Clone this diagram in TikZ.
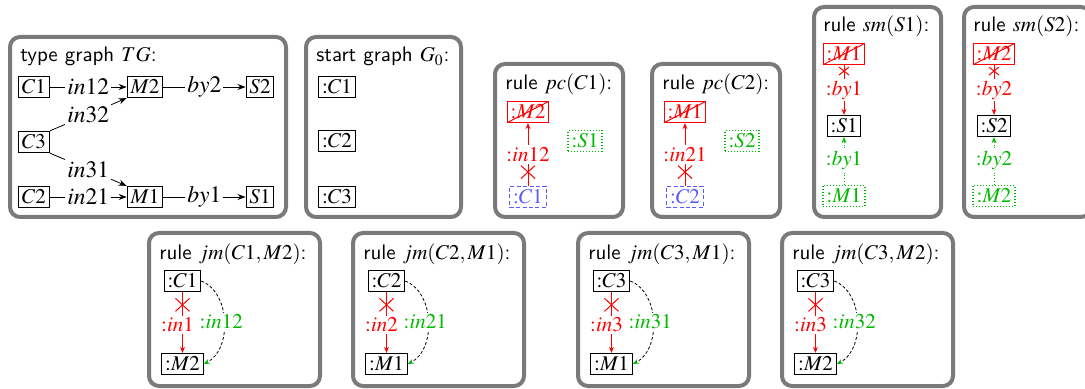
\documentclass[tikz,border=0pt]{standalone}
\usepackage{mathptmx}
\usetikzlibrary{arrows.meta,shapes.misc}
\definecolor{frm}{RGB}{122,122,122}
\definecolor{rd}{RGB}{255,0,0}
\definecolor{gn}{RGB}{0,185,0}
\definecolor{bl}{RGB}{90,90,255}
\tikzset{
  every node/.style={font=\fontsize{10.5}{12}\selectfont},
  frame/.style={draw=frm, line width=2pt, rounded corners=5pt},
  ttl/.style={anchor=base west, inner sep=0pt},
  obj/.style={draw, line width=0.5pt, inner xsep=1.7pt, inner ysep=1.1pt, text height=7.6pt, text depth=0.8pt},
  del/.style={obj, draw=rd, text=rd, path picture={\draw[rd,line width=0.5pt] (path picture bounding box.south west) -- (path picture bounding box.north east);}},
  nac/.style={obj, draw=bl, text=bl, dash pattern=on 2pt off 1.2pt},
  add/.style={obj, draw=gn, text=gn, densely dotted, line width=0.8pt},
  lab/.style={fill=white, inner sep=1pt},
  tglab/.style={lab, font=\fontsize{11.8}{13}\selectfont},
  tip/.style={-{Stealth[length=4pt,width=3pt]}},
  stip/.style={-{Stealth[length=3pt,width=2.4pt]}},
  xmark/.style={cross out, draw=rd, line width=0.5pt, inner sep=0pt, minimum width=6.5pt, minimum height=6pt},
  xsmall/.style={cross out, draw=rd, line width=0.5pt, inner sep=0pt, minimum width=4.5pt, minimum height=3.5pt},
  curvedge/.style={draw=black, line width=0.4pt, dash pattern=on 1.5pt off 1pt, -{Stealth[length=3pt,width=2.4pt,color=gn]}}
}
\begin{document}
\begin{tikzpicture}[x=0.5pt,y=-0.5pt]
\clip (0,0) rectangle (1085,389);
% type graph
\draw[frame] (10,37) rectangle (286,217);
\node[ttl] (ttg) at (20,62) {\textsf{type graph} $TG$\textsf{:}};
\node[obj] (C1) at (34,87) {$C1$};
\node[obj] (M2) at (145,87) {$M2$};
\node[obj] (S2) at (260,87) {$S2$};
\node[obj] (C3) at (34,142) {$C3$};
\node[obj] (C2) at (34,197) {$C2$};
\node[obj] (M1) at (145,197) {$M1$};
\node[obj] (S1) at (260,197) {$S1$};
\draw[tip] (C1) -- node[tglab]{$in12$} (M2);
\draw[tip] (M2) -- node[tglab]{$by2$} (S2);
\draw[tip] (C2) -- node[tglab]{$in21$} (M1);
\draw[tip] (M1) -- node[tglab]{$by1$} (S1);
\draw[tip] (C3.north east) -- node[tglab]{$in32$} (M2.south west);
\draw[tip] (C3.south east) -- node[tglab]{$in31$} (M1.north west);
% start graph
\draw[frame] (306,37) rectangle (461,217);
\node[ttl] (tg0) at (316,62) {\textsf{start graph} $G_0$\textsf{:}};
\node[obj] (g1) at (337,87) {${:}C1$};
\node[obj] (g2) at (337,141) {${:}C2$};
\node[obj] (g3) at (337,197) {${:}C3$};
% rules pc
\foreach \ox/\c/\m/\s/\e/\n in {0/C1/M2/S1/in12/a, 157/C2/M1/S2/in21/b}{
  \draw[frame] (495+\ox,64) rectangle (623+\ox,217);
  \node[ttl] (tp\n) at (505+\ox,90) {\textsf{rule} $pc(\c)$\textsf{:}};
  \node[del] (pM\n) at (528+\ox,112) {${:}\m$};
  \node[nac] (pC\n) at (528+\ox,197) {${:}\c$};
  \node[add] (pS\n) at (585+\ox,141) {${:}\s$};
  \draw[rd,stip] (pC\n) -- node[pos=0.22,xmark]{} node[lab,text=rd,midway]{${:}\e$} (pM\n);
}
% rules sm
\foreach \ox/\s/\m/\e/\n in {0/S1/M1/by1/a, 150/S2/M2/by2/b}{
  \draw[frame] (814+\ox,7) rectangle (941+\ox,217);
  \node[ttl] (ts\n) at (823+\ox,32) {\textsf{rule} $sm(\s)$\textsf{:}};
  \node[del] (sMr\n) at (844+\ox,54) {${:}\m$};
  \node[obj] (sS\n) at (844+\ox,126) {${:}\s$};
  \node[add] (sMg\n) at (844+\ox,196) {${:}\m$};
  \draw[rd,stip] (sMr\n) -- node[pos=0.12,xsmall]{} node[lab,text=rd,midway]{${:}\e$} (sS\n);
  \draw[gn,densely dotted,stip] (sMg\n) -- node[lab,text=gn,midway]{${:}\e$} (sS\n);
}
% rules jm
\foreach \ox/\a/\b/\r/\g/\n in {0/C1/M2/in1/in12/a, 204/C2/M1/in2/in21/b, 429/C3/M1/in3/in31/c, 633/C3/M2/in3/in32/d}{
  \draw[frame] (149+\ox,233) rectangle (320+\ox,386);
  \node[ttl] (tj\n) at (159+\ox,260) {\textsf{rule} $jm(\a,\b)$\textsf{:}};
  \node[obj] (jC\n) at (182.5+\ox,281) {${:}\a$};
  \node[obj] (jM\n) at (182.5+\ox,364) {${:}\b$};
  \draw[rd,stip] (jC\n) -- node[pos=0.21,xmark]{} node[lab,text=rd,pos=0.54,xshift=-2.5pt]{${:}\r$} (jM\n);
  \draw[curvedge] (jC\n.east) .. controls +(30,12) and +(28,-14) .. node[lab,text=gn,midway,xshift=-1.5pt]{${:}\g$} (jM\n.east);
}
\end{tikzpicture}
\end{document}
